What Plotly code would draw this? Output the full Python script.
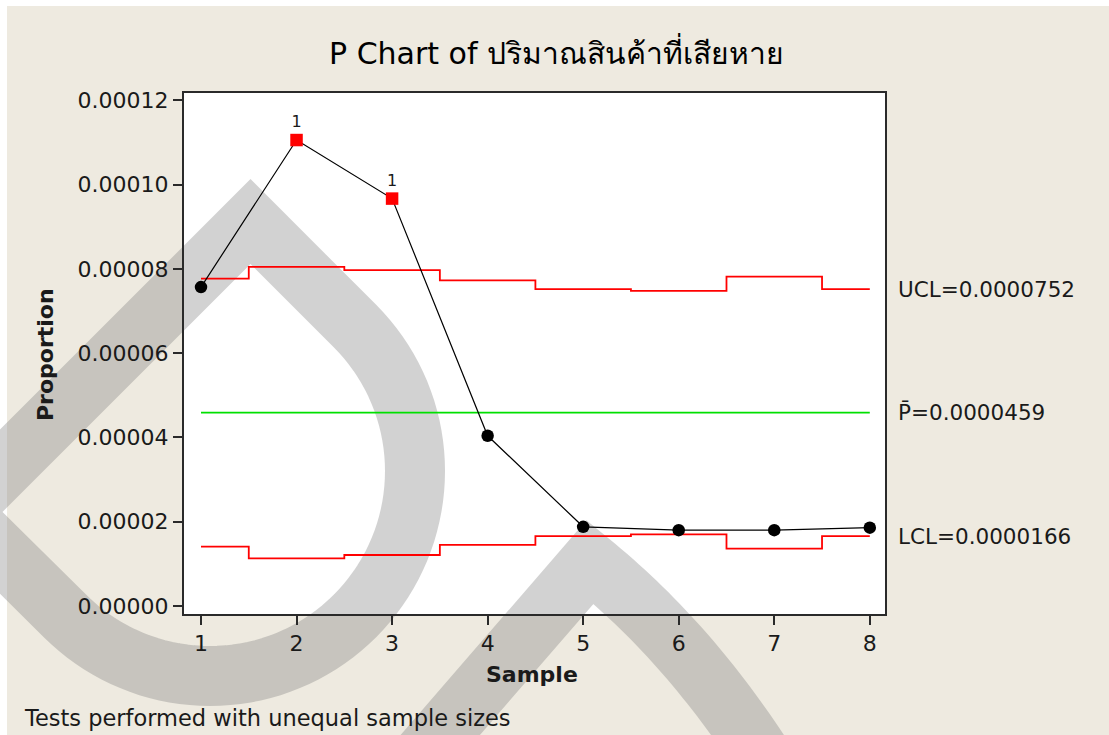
import numpy as np
import plotly.graph_objects as go

# ---- data -------------------------------------------------------------
samples = [1, 2, 3, 4, 5, 6, 7, 8]
proportion = [0.0000757, 0.0001106, 0.0000967, 0.0000404,
              0.0000188, 0.0000180, 0.0000180, 0.0000186]
ucl = [0.0000777, 0.0000805, 0.0000797, 0.0000773,
       0.0000752, 0.0000748, 0.0000782, 0.0000752]
lcl = [0.0000141, 0.0000113, 0.0000121, 0.0000145,
       0.0000166, 0.0000170, 0.0000136, 0.0000166]
p_bar = 0.0000459
y_ticks = [0.0, 0.00002, 0.00004, 0.00006, 0.00008, 0.00010, 0.00012]
x_ticks = samples

title_text = "P Chart of ปริมาณสินค้าที่เสียหาย"
note_text = "Tests performed with unequal sample sizes"

# ---- page geometry (pixels) --------------------------------------------
W, H = 1109, 735
PL, PR, PT, PB = 184, 885, 93, 614   # plot box


def px(x):
    return (x - PL) / (PR - PL)


def py(y):
    return (PB - y) / (PB - PT)


def path_from(points, close=False):
    parts = [f"{'M' if i == 0 else 'L'} {px(x):.5f} {py(y):.5f}"
             for i, (x, y) in enumerate(points)]
    return " ".join(parts) + (" Z" if close else "")


FONT = "DejaVu Sans"
INK = "#1a1a1a"
BEIGE = "#EEEAE0"

# out-of-control points (test 1: beyond the limits)
flags = [p > u or p < l for p, u, l in zip(proportion, ucl, lcl)]
in_x = [s for s, f in zip(samples, flags) if not f]
in_y = [p for p, f in zip(proportion, flags) if not f]
out_x = [s for s, f in zip(samples, flags) if f]
out_y = [p for p, f in zip(proportion, flags) if f]

fig = go.Figure()

fig.add_trace(go.Scatter(x=samples, y=ucl, mode="lines", line_shape="hvh",
                         line=dict(color="#FF0000", width=1.8), hoverinfo="skip"))
fig.add_trace(go.Scatter(x=samples, y=lcl, mode="lines", line_shape="hvh",
                         line=dict(color="#FF0000", width=1.8), hoverinfo="skip"))
fig.add_trace(go.Scatter(x=[samples[0], samples[-1]], y=[p_bar, p_bar], mode="lines",
                         line=dict(color="#00E000", width=1.6), hoverinfo="skip"))
fig.add_trace(go.Scatter(x=samples, y=proportion, mode="lines",
                         line=dict(color="black", width=1.2)))
fig.add_trace(go.Scatter(x=in_x, y=in_y, mode="markers",
                         marker=dict(symbol="circle", size=12.5, color="black")))
fig.add_trace(go.Scatter(x=out_x, y=out_y, mode="markers+text",
                         marker=dict(symbol="square", size=12.5, color="#FF0000"),
                         text=["1"] * len(out_x), textposition="top center",
                         textfont=dict(family=FONT, size=16, color=INK)))

# ---- background strips and watermark -----------------------------------
shapes = []
# thin white border along the top and left edges
shapes.append(dict(type="rect", xref="paper", yref="paper", layer="below",
                   x0=px(0), x1=px(W), y0=py(6), y1=py(0),
                   fillcolor="white", line=dict(width=0)))
shapes.append(dict(type="rect", xref="paper", yref="paper", layer="below",
                   x0=px(0), x1=px(7), y0=py(H), y1=py(0),
                   fillcolor="white", line=dict(width=0)))

# watermark: tilted "D" loop
cx, cy, r = 210.0, 471.0, 205.0
top = (250.5, 221.5)
left = (-40.0, 512.0)
theta = np.radians(np.linspace(-45, 135, 73))
arc = list(zip(cx + r * np.cos(theta), cy + r * np.sin(theta)))
loop = [top] + arc + [left]
wm = dict(color="rgb(128,128,128)", width=60)
shapes.append(dict(type="path", xref="paper", yref="paper", layer="below",
                   path=path_from(loop, close=True), line=wm, opacity=0.35))

# watermark: inverted V stroke at the bottom
apex = (590.0, 562.0)
t = np.linspace(0, 1, 40)
c0, c1, c2 = np.array(apex), np.array([705.0, 655.0]), np.array([792.0, 805.0])
curve = [tuple((1 - s) ** 2 * c0 + 2 * s * (1 - s) * c1 + s ** 2 * c2) for s in t]
vee = [(384.0, 800.0)] + curve
shapes.append(dict(type="path", xref="paper", yref="paper", layer="below",
                   path=path_from(vee), line=wm, opacity=0.35))

# ---- annotations -------------------------------------------------------
ann = []
ann.append(dict(text=title_text, xref="paper", yref="paper", x=px(556), y=py(52),
                xanchor="center", yanchor="middle", showarrow=False,
                font=dict(family=FONT, size=30, color="black")))
ann.append(dict(text="Proportion", xref="paper", yref="paper", x=px(45), y=py(355),
                xanchor="center", yanchor="middle", showarrow=False, textangle=-90,
                font=dict(family=FONT, size=22, color=INK, weight="bold")))
ann.append(dict(text="Sample", xref="paper", yref="paper", x=px(532), y=py(674),
                xanchor="center", yanchor="middle", showarrow=False,
                font=dict(family=FONT, size=22, color=INK, weight="bold")))
ann.append(dict(text=note_text, xref="paper", yref="paper", x=px(22), y=py(718),
                xanchor="left", yanchor="middle", showarrow=False,
                font=dict(family=FONT, size=22.5, color=INK)))
for label, val in [("UCL", ucl[-1]), ("P\u0304", p_bar), ("LCL", lcl[-1])]:
    ann.append(dict(text=f"{label}={val:.7f}", xref="paper", yref="y",
                    x=px(896), y=val, xanchor="left", yanchor="middle",
                    showarrow=False, font=dict(family=FONT, size=21.5, color=INK)))

fig.update_layout(
    width=W, height=H,
    margin=dict(l=PL, r=W - PR, t=PT, b=H - PB, pad=0),
    paper_bgcolor=BEIGE, plot_bgcolor="white",
    showlegend=False, shapes=shapes, annotations=ann,
    font=dict(family=FONT, color=INK),
)

x_lo = 1 - (201 - PL) / 95.55
x_hi = 8 + (PR - 869.8) / 95.55
y_unit = 84.26 / 0.00002
y_lo = -(PB - 606) / y_unit
y_hi = (606 - PT) / y_unit

axis_common = dict(showgrid=False, zeroline=False, showline=True, mirror=True,
                   linecolor="#2a2a2a", linewidth=2, ticks="outside", ticklen=9,
                   tickwidth=1.5, tickcolor="#2a2a2a",
                   tickfont=dict(family=FONT, size=22, color=INK))
fig.update_xaxes(range=[x_lo, x_hi], tickvals=x_ticks, **axis_common)
fig.update_yaxes(range=[y_lo, y_hi], tickvals=y_ticks, tickformat=".5f", **axis_common)

fig.write_html("out.html")
